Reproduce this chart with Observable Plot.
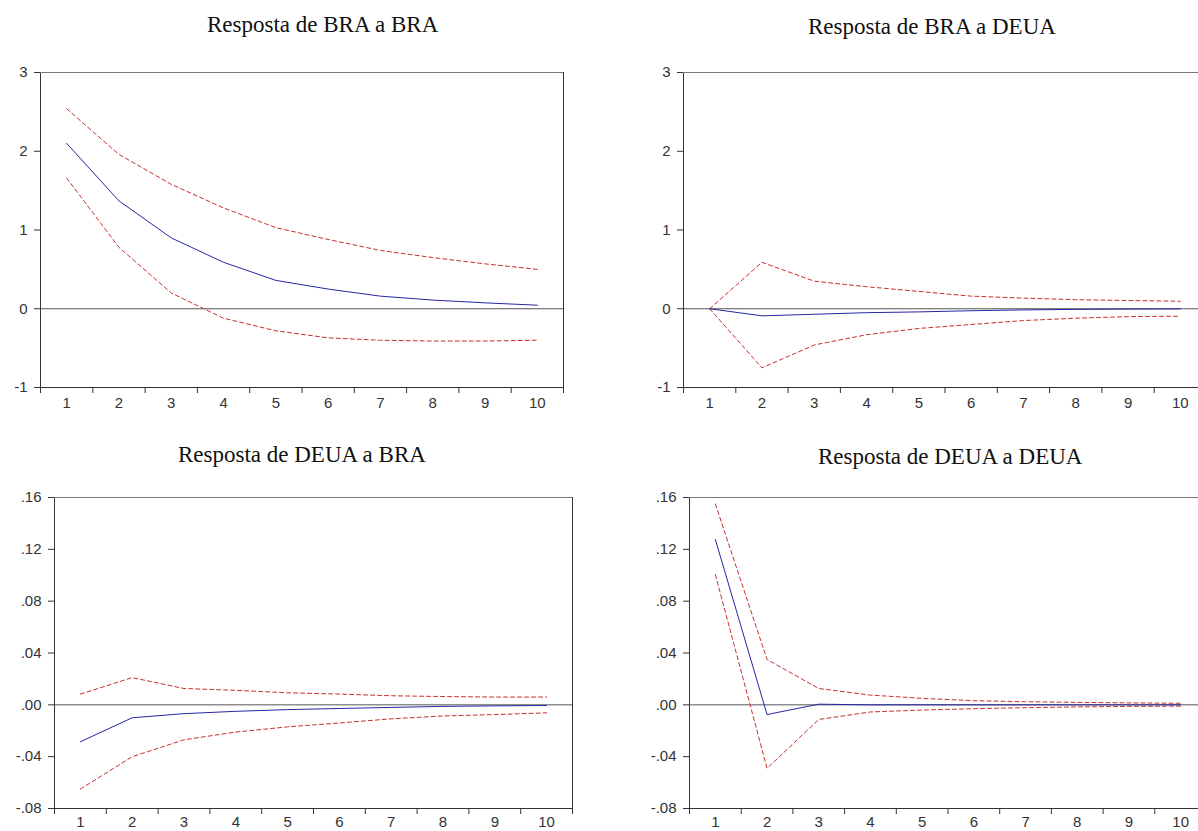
<!DOCTYPE html>
<html>
<head>
<meta charset="utf-8">
<script src="https://cdn.jsdelivr.net/npm/d3@7"></script>
<script src="https://cdn.jsdelivr.net/npm/@observablehq/plot@0.6"></script>
<style>
  html, body { margin: 0; padding: 0; background: #fff; }
  #root { position: relative; width: 1198px; height: 831px; overflow: hidden; background: #fff; }
  .panel { position: absolute; }
  .panel svg { max-width: none !important; }
  .title { position: absolute; font-family: "Liberation Serif", "Times New Roman", serif; font-size: 23px; color: #111; white-space: nowrap; line-height: 1; }
</style>
</head>
<body>
<div id="root"></div>
<script>
// Periods (horizon)
const periods = [1, 2, 3, 4, 5, 6, 7, 8, 9, 10];

// Titles
const titles = ["Resposta de BRA a BRA", "Resposta de BRA a DEUA", "Resposta de DEUA a BRA", "Resposta de DEUA a DEUA"];

// Y tick values
const topTicks = [-1, 0, 1, 2, 3];
const bottomTicks = [-0.08, -0.04, 0, 0.04, 0.08, 0.12, 0.16];

// Resposta de BRA a BRA
const braBraMid = [2.10, 1.37, 0.90, 0.59, 0.36, 0.25, 0.16, 0.11, 0.075, 0.045];
const braBraUp  = [2.54, 1.96, 1.58, 1.28, 1.03, 0.88, 0.74, 0.65, 0.57, 0.50];
const braBraLo  = [1.66, 0.78, 0.20, -0.12, -0.28, -0.37, -0.40, -0.41, -0.41, -0.40];

// Resposta de BRA a DEUA
const braDeuaMid = [0.0, -0.09, -0.07, -0.05, -0.04, -0.025, -0.015, -0.008, -0.004, -0.002];
const braDeuaUp  = [0.0, 0.59, 0.35, 0.28, 0.22, 0.16, 0.135, 0.115, 0.105, 0.095];
const braDeuaLo  = [0.0, -0.75, -0.46, -0.33, -0.25, -0.20, -0.15, -0.12, -0.10, -0.095];

// Resposta de DEUA a BRA
const deuaBraMid = [-0.0285, -0.010, -0.0068, -0.005, -0.0037, -0.0028, -0.002, -0.0012, -0.0008, -0.0005];
const deuaBraUp  = [0.0083, 0.021, 0.0126, 0.0112, 0.0093, 0.0083, 0.0070, 0.0064, 0.0060, 0.0060];
const deuaBraLo  = [-0.065, -0.040, -0.027, -0.021, -0.017, -0.014, -0.0108, -0.0086, -0.0075, -0.0062];

// Resposta de DEUA a DEUA
const deuaDeuaMid = [0.1276, -0.0075, 0.0005, 0.0, 0.0, 0.0, 0.0, 0.0, 0.0, 0.0];
const deuaDeuaUp  = [0.155, 0.035, 0.0126, 0.0075, 0.005, 0.0032, 0.0024, 0.0019, 0.0015, 0.0012];
const deuaDeuaLo  = [0.1005, -0.049, -0.0113, -0.0055, -0.004, -0.003, -0.0022, -0.0016, -0.0012, -0.001];

const blue = "#2626a4";
const red = "#c8302c";

function rows(mid, up, lo) {
  return periods.map((p, i) => ({period: p, mid: mid[i], up: up[i], lo: lo[i]}));
}

const bounds = d3.range(0.5, 11, 1);

function fmtBottom(d) {
  return d3.format(".2f")(d).replace("0.", ".").replace("−", "-");
}

function panel(opts) {
  const data = rows(opts.mid, opts.up, opts.lo);
  const chart = Plot.plot({
    width: opts.width,
    height: opts.height,
    marginLeft: opts.ml,
    marginRight: opts.mr,
    marginTop: opts.mt,
    marginBottom: opts.mb,
    x: {domain: [0.5, 10.5], axis: null},
    y: {domain: opts.ydomain, axis: null},
    style: {fontFamily: "'Liberation Sans', Arial, sans-serif", fontSize: "15px", color: "#333", background: "transparent", overflow: "visible"},
    marks: [
      Plot.ruleY([0], {stroke: "#555", strokeWidth: 1}),
      Plot.line(data, {x: "period", y: "up", stroke: red, strokeWidth: 1, strokeDasharray: "4,3"}),
      Plot.line(data, {x: "period", y: "lo", stroke: red, strokeWidth: 1, strokeDasharray: "4,3"}),
      Plot.line(data, {x: "period", y: "mid", stroke: blue, strokeWidth: 1}),
      Plot.frame({stroke: "#333", strokeWidth: 1}),
      Plot.ruleY([opts.ydomain[1]], {stroke: "#777", strokeWidth: 1}),
      Plot.axisY(opts.yticks, {anchor: "left", tickSize: 6, tickPadding: 7, tickFormat: opts.fmt, label: null, stroke: "#333", fill: "#333", fontSize: 15}),
      Plot.axisX(bounds, {anchor: "bottom", tickSize: 6, tickFormat: () => "", label: null, stroke: "#333"}),
      Plot.axisX(periods, {anchor: "bottom", tickSize: 0, tickPadding: opts.xpad, tickFormat: d => String(d), label: null, fill: "#333", fontSize: 15})
    ]
  });
  const div = document.createElement("div");
  div.className = "panel";
  div.style.left = opts.left + "px";
  div.style.top = opts.top + "px";
  div.style.width = opts.width + "px";
  div.style.height = opts.height + "px";
  div.appendChild(chart);
  document.getElementById("root").appendChild(div);

  const t = document.createElement("div");
  t.className = "title";
  t.textContent = opts.title;
  t.style.left = opts.tx + "px";
  t.style.top = opts.ty + "px";
  document.getElementById("root").appendChild(t);
}

const fmtTop = d => String(d);

panel({title: titles[0], tx: 207, ty: 13, left: 0, top: 60, width: 600, height: 362, ml: 40, mr: 37, mt: 12, mb: 35, xpad: 10,
  ydomain: [-1, 3], yticks: topTicks, fmt: fmtTop, mid: braBraMid, up: braBraUp, lo: braBraLo});
panel({title: titles[1], tx: 808, ty: 15, left: 600, top: 60, width: 640, height: 362, ml: 83, mr: 34, mt: 12, mb: 35, xpad: 10,
  ydomain: [-1, 3], yticks: topTicks, fmt: fmtTop, mid: braDeuaMid, up: braDeuaUp, lo: braDeuaLo});
panel({title: titles[2], tx: 178, ty: 443, left: 0, top: 480, width: 600, height: 350, ml: 54, mr: 28, mt: 17, mb: 22, xpad: 8,
  ydomain: [-0.08, 0.16], yticks: bottomTicks, fmt: fmtBottom, mid: deuaBraMid, up: deuaBraUp, lo: deuaBraLo});
panel({title: titles[3], tx: 818, ty: 445, left: 600, top: 480, width: 640, height: 350, ml: 89, mr: 34, mt: 17, mb: 22, xpad: 8,
  ydomain: [-0.08, 0.16], yticks: bottomTicks, fmt: fmtBottom, mid: deuaDeuaMid, up: deuaDeuaUp, lo: deuaDeuaLo});
</script>
</body>
</html>
